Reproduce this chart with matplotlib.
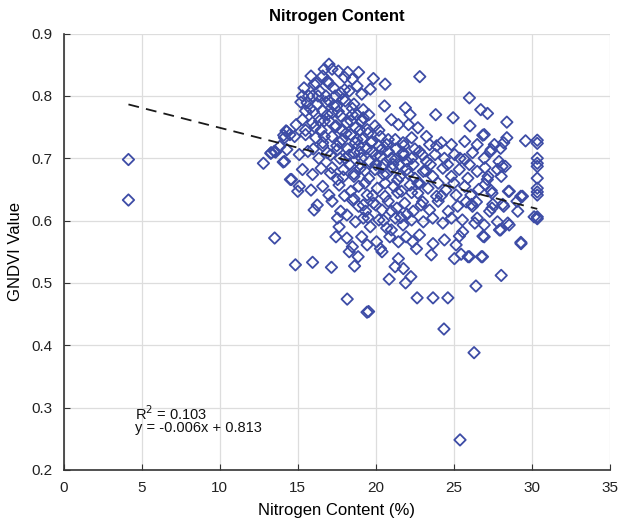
import numpy as np
import matplotlib
matplotlib.use('Agg')
import matplotlib.pyplot as plt

plt.rcParams['font.family'] = ['Liberation Sans', 'DejaVu Sans']

# nitrogen content (%) and GNDVI per sample, grouped by band
nitrogen = [
    # left side / outliers
    4.15, 4.15, 13.52, 12.8, 13.27, 13.58, 14.07, 14.3, 14.53, 14.85, 14.1, 14.3,
    # low values
    15.95, 17.16, 18.64, 18.87, 18.17, 19.44, 19.54, 20.86, 21.91, 22.25, 22.65,
    23.67, 24.62, 24.37, 26.3, 25.4, 26.42, 28.04, 26.84, 29.31, 25.04, 25.47,
    26.0, 23.56, 23.67, 22.61, 22.36, 21.45, 21.24, 21.77, 25.15, 25.36, 25.57,
    # upper scattered
    22.82, 20.6, 20.56, 26.0, 26.73, 27.16, 28.4, 23.84, 24.96, 26.04, 26.95,
    28.4, 29.6,
    # 30% column
    30.35, 30.35, 30.35, 30.35, 30.35, 30.35, 30.35, 30.35, 30.35, 30.35, 30.35,
    30.15,
    # right cluster
    26.86, 28.0, 27.4, 28.1, 28.04, 27.2, 28.56, 29.3, 29.1, 28.46, 27.93, 26.87,
    29.3, 26.77, 25.92, 27.5, 27.3, 26.45, 26.14, 28.14, 26.35, 27.0, 27.4,
    # main cluster, top
    17.0, 16.7, 17.2, 15.85, 16.6, 17.6, 18.2, 18.9, 19.85, 18.5, 18.0, 16.9,
    15.4, 16.05, 16.4, 17.3, 17.75, 18.3, 18.8, 19.1, 19.65, 15.3, 15.95, 16.8,
    15.6, 16.25, 17.0, 17.5, 18.05, 18.6, 19.2, 15.5, 16.6, 17.2, 17.75, 18.5,
    19.55, 21.9, 22.2,
    15.3, 15.95, 16.7, 17.45, 18.15, 18.7, 19.1, 19.45, 19.95, 21.0, 21.45, 22.1,
    22.7, 14.9, 14.25, 14.5,
    14.15, 14.8, 15.5, 16.15, 16.6, 17.2, 17.85, 18.4, 18.7, 19.2, 19.75, 20.3,
    20.7, 21.25, 21.75, 22.3, 23.25, 23.45, 24.2, 24.85, 25.7, 26.5, 27.6, 28.2,
    13.85, 13.5,
    # main cluster, middle
    13.3, 14.15, 15.1, 15.65, 16.35, 16.9, 17.55, 18.05, 18.6, 19.1, 19.75, 20.3,
    20.8, 21.25, 21.75, 22.3, 22.8, 23.25, 23.8, 24.4, 25.05, 25.7, 26.2, 26.95,
    27.35, 27.9,
    14.6, 15.3, 15.95, 16.5, 17.1, 17.55, 17.95, 18.6, 19.0, 19.55, 19.95, 20.5,
    21.05, 21.55, 22.0, 22.5, 23.05, 23.65, 24.3, 24.85, 25.35, 25.9, 26.5, 27.15,
    27.8, 28.3,
    15.0, 15.1, 15.85, 16.6, 17.0, 17.65, 18.4, 18.9, 19.45, 20.1, 20.6, 21.15,
    21.65, 22.2, 22.7, 23.35, 23.9, 24.5, 25.15, 25.7, 26.1, 27.45, 28.5, 29.4,
    # main cluster, lower
    16.05, 16.25, 17.2, 17.75, 18.5, 18.9, 19.35, 19.85, 20.4, 20.8, 21.35, 21.85,
    22.4, 22.9, 23.45, 24.0, 24.65, 25.25, 26.2, 27.45, 28.2, 29.05,
    17.55, 18.15, 17.65, 18.7, 19.2, 19.65, 20.2, 20.7, 21.25, 21.75, 22.3, 23.05,
    23.65, 24.3, 24.85, 25.55, 26.5, 26.95, 27.8, 28.55,
    17.45, 18.15, 18.5, 19.1, 19.45, 20.05, 20.3, 20.9, 21.45, 21.95, 22.8, 24.4,
    26.95, 28.0, 18.3, 20.4,
    # dense core
    17.5, 18.2, 18.9, 19.4, 20.0, 20.5, 21.0, 21.5, 22.0, 19.0, 18.3, 17.7,
    20.2, 20.8, 21.3, 22.5, 23.0, 19.6, 20.4, 21.8, 16.5, 17.0, 17.8, 18.4,
    19.0, 16.0, 16.8, 17.4, 18.0, 16.2, 17.0, 15.7, 16.4, 17.6, 18.8, 19.3,
    20.6, 21.4, 22.3, 19.8, 18.6, 20.0, 21.0, 22.0, 23.0, 20.5, 19.2, 21.6,
    24.0, 24.6, 25.0, 25.4, 23.9, 23.2, 22.7, 26.0, 27.0, 26.6, 24.2, 25.8,
    15.2, 15.8, 16.3, 16.9, 17.3, 17.9, 18.5, 19.2,
    15.5, 16.1, 16.7, 17.4, 18.1, 18.8, 19.5, 20.2,
    16.0, 16.6, 17.1, 17.7, 18.3, 19.0, 19.7, 20.4, 21.1, 21.8, 22.4,
    17.2, 17.9, 18.6, 19.3, 20.0, 20.7, 21.4, 22.1, 22.8, 23.5,
    18.0, 19.5, 21.0,
]
gndvi = [
    0.698, 0.633, 0.572, 0.692, 0.708, 0.710, 0.694, 0.714, 0.666, 0.529, 0.737, 0.743,
    0.533, 0.525, 0.527, 0.542, 0.474, 0.453, 0.454, 0.506, 0.500, 0.510, 0.476,
    0.476, 0.476, 0.426, 0.388, 0.248, 0.495, 0.512, 0.542, 0.563, 0.539, 0.546,
    0.542, 0.545, 0.563, 0.555, 0.566, 0.539, 0.526, 0.523, 0.561, 0.575, 0.582,
    0.831, 0.819, 0.784, 0.797, 0.778, 0.772, 0.758, 0.770, 0.765, 0.752, 0.738,
    0.733, 0.728,
    0.729, 0.724, 0.700, 0.692, 0.687, 0.668, 0.652, 0.646, 0.641, 0.606, 0.603,
    0.606,
    0.737, 0.716, 0.714, 0.687, 0.671, 0.671, 0.647, 0.639, 0.615, 0.596, 0.585, 0.575,
    0.565, 0.542, 0.542, 0.626, 0.615, 0.630, 0.626, 0.626, 0.596, 0.658, 0.648,
    0.851, 0.843, 0.843, 0.832, 0.832, 0.840, 0.838, 0.838, 0.828, 0.827, 0.830, 0.824,
    0.813, 0.819, 0.808, 0.813, 0.805, 0.808, 0.816, 0.803, 0.811, 0.800, 0.800, 0.800,
    0.789, 0.787, 0.792, 0.784, 0.792, 0.787, 0.778, 0.776, 0.776, 0.773, 0.768, 0.770,
    0.770, 0.781, 0.770,
    0.762, 0.757, 0.760, 0.752, 0.757, 0.749, 0.760, 0.746, 0.752, 0.762, 0.754, 0.754,
    0.749, 0.754, 0.744, 0.738,
    0.733, 0.735, 0.738, 0.733, 0.725, 0.735, 0.730, 0.738, 0.725, 0.733, 0.727, 0.735,
    0.722, 0.730, 0.725, 0.733, 0.735, 0.722, 0.725, 0.722, 0.727, 0.722, 0.722, 0.725,
    0.719, 0.711,
    0.709, 0.695, 0.706, 0.711, 0.700, 0.709, 0.714, 0.700, 0.709, 0.700, 0.711, 0.703,
    0.711, 0.698, 0.709, 0.700, 0.711, 0.695, 0.706, 0.700, 0.706, 0.698, 0.709, 0.700,
    0.711, 0.695,
    0.666, 0.682, 0.674, 0.684, 0.676, 0.666, 0.682, 0.671, 0.684, 0.668, 0.682, 0.674,
    0.684, 0.671, 0.682, 0.668, 0.679, 0.671, 0.684, 0.671, 0.682, 0.668, 0.679, 0.666,
    0.682, 0.687,
    0.647, 0.655, 0.649, 0.655, 0.641, 0.657, 0.647, 0.655, 0.641, 0.652, 0.639, 0.655,
    0.647, 0.657, 0.644, 0.652, 0.639, 0.649, 0.641, 0.655, 0.641, 0.644, 0.647, 0.639,
    0.617, 0.625, 0.631, 0.615, 0.633, 0.623, 0.615, 0.628, 0.617, 0.631, 0.620, 0.628,
    0.615, 0.625, 0.617, 0.631, 0.615, 0.623, 0.623, 0.620, 0.623, 0.631,
    0.604, 0.609, 0.590, 0.598, 0.604, 0.590, 0.601, 0.588, 0.604, 0.593, 0.601, 0.598,
    0.604, 0.596, 0.604, 0.601, 0.604, 0.593, 0.598, 0.593,
    0.574, 0.572, 0.558, 0.574, 0.561, 0.566, 0.555, 0.574, 0.566, 0.574, 0.577, 0.569,
    0.574, 0.585, 0.550, 0.550,
    0.720, 0.715, 0.720, 0.715, 0.705, 0.690, 0.700, 0.690, 0.695, 0.690, 0.690, 0.700,
    0.720, 0.730, 0.715, 0.715, 0.705, 0.695, 0.685, 0.720, 0.745, 0.760, 0.745, 0.760,
    0.745, 0.775, 0.790, 0.800, 0.810, 0.820, 0.820, 0.800, 0.760, 0.775, 0.770, 0.660,
    0.660, 0.645, 0.645, 0.640, 0.635, 0.625, 0.615, 0.610, 0.630, 0.600, 0.625, 0.605,
    0.660, 0.690, 0.660, 0.700, 0.720, 0.680, 0.660, 0.690, 0.685, 0.650, 0.640, 0.630,
    0.790, 0.780, 0.800, 0.770, 0.785, 0.795, 0.780, 0.765,
    0.745, 0.750, 0.735, 0.750, 0.740, 0.730, 0.740, 0.745,
    0.715, 0.720, 0.705, 0.725, 0.705, 0.710, 0.725, 0.715, 0.690, 0.705, 0.690,
    0.685, 0.670, 0.675, 0.680, 0.690, 0.675, 0.665, 0.675, 0.660, 0.690,
    0.640, 0.605, 0.585,
]

# linear fit shown on the chart
fit_slope = -0.0064
fit_intercept = 0.813
fit_r2 = 0.103
fit_range = [4.15, 30.35]

fig = plt.figure(figsize=(6.22, 5.23), dpi=100)
ax = fig.add_axes([0.1024, 0.1017, 0.8780, 0.8339])

ax.scatter(nitrogen, gndvi, marker='D', s=34, facecolors='none',
           edgecolors='#3d4ca6', linewidths=1.3, zorder=3)

fx = np.array(fit_range)
ax.plot(fx, fit_slope * fx + fit_intercept, '--', color='#1a1a1a', lw=1.3,
        dashes=(6, 4), zorder=4)

ax.text(4.6, 0.281, 'R$^2$ = %.3f\ny = %.3fx + %.3f' % (fit_r2, fit_slope, fit_intercept),
        fontsize=10.5, va='center', ha='left', linespacing=0.85, color='#111111')

ax.set_xlim(0, 35)
ax.set_ylim(0.2, 0.9)
ax.set_xticks(np.arange(0, 36, 5))
ax.set_yticks(np.round(np.arange(0.2, 0.91, 0.1), 1))
ax.grid(True, color='#dddddd', lw=0.9)
ax.set_axisbelow(True)
for s in ['top', 'right']:
    ax.spines[s].set_visible(False)
for s in ['left', 'bottom']:
    ax.spines[s].set_color('#333333')
    ax.spines[s].set_linewidth(1.2)
ax.tick_params(direction='in', length=4, labelsize=11, colors='#333333',
               labelcolor='#222222', pad=8)

ax.set_title('Nitrogen Content', fontsize=12, fontweight='bold', pad=9)
ax.set_xlabel('Nitrogen Content (%)', fontsize=12, labelpad=6)
ax.set_ylabel('GNDVI Value', fontsize=12, labelpad=6)

fig.savefig('out.png', dpi=100)
